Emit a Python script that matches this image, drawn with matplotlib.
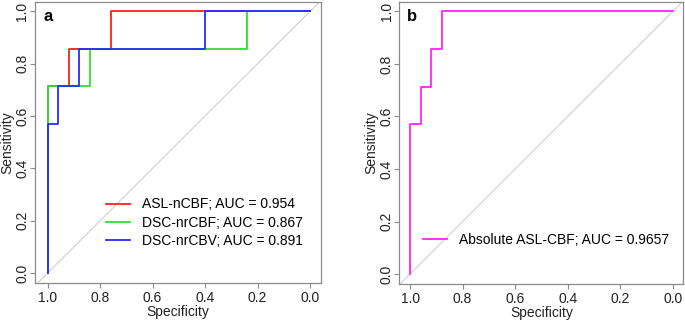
import matplotlib
matplotlib.use("Agg")
import matplotlib.pyplot as plt

plt.rcParams['font.family'] = ['Liberation Sans', 'DejaVu Sans']

# ROC curve step points (specificity, sensitivity)
asl_spec = [1.0, 1.0, 0.92, 0.92, 0.76, 0.76, 0.0]
asl_sens = [0.0, 0.714, 0.714, 0.857, 0.857, 1.0, 1.0]
dsc_cbf_spec = [1.0, 1.0, 0.84, 0.84, 0.24, 0.24, 0.0]
dsc_cbf_sens = [0.0, 0.714, 0.714, 0.857, 0.857, 1.0, 1.0]
dsc_cbv_spec = [1.0, 1.0, 0.96, 0.96, 0.88, 0.88, 0.40, 0.40, 0.0]
dsc_cbv_sens = [0.0, 0.571, 0.571, 0.714, 0.714, 0.857, 0.857, 1.0, 1.0]
abs_spec = [1.0, 1.0, 0.96, 0.96, 0.92, 0.92, 0.88, 0.88, 0.0]
abs_sens = [0.0, 0.571, 0.571, 0.714, 0.714, 0.857, 0.857, 1.0, 1.0]

labels_a = ["ASL-nCBF; AUC = 0.954", "DSC-nrCBF; AUC = 0.867", "DSC-nrCBV; AUC = 0.891"]
label_b = "Absolute ASL-CBF; AUC = 0.9657"
ticks = [1.0, 0.8, 0.6, 0.4, 0.2, 0.0]
tick_labels = ["1.0", "0.8", "0.6", "0.4", "0.2", "0.0"]

fig = plt.figure(figsize=(6.85, 3.2), dpi=100)
ax_a = fig.add_axes([35/685, 37/320, 286/685, 281/320])
ax_b = fig.add_axes([399.3/685, 36/320, 284/685, 282/320])

FS = 10
box_col = '#8a8a8a'

def style(ax, xl, yl):
    ax.set_xlim(*xl)
    ax.set_ylim(*yl)
    ax.set_xticks(ticks)
    ax.set_xticklabels(tick_labels, fontsize=FS, color='#222222')
    ax.set_yticks(ticks)
    ax.set_yticklabels(tick_labels, fontsize=FS, color='#222222', rotation=90, va='center')
    ax.tick_params(direction='out', length=3.5, width=0.8, color=box_col, pad=2)
    ax.tick_params(axis='y', pad=0.5)
    for s in ax.spines.values():
        s.set_color(box_col)
        s.set_linewidth(0.9)
    ax.set_xlabel("Specificity", fontsize=FS, color='#222222', labelpad=0)
    ax.set_ylabel("Sensitivity", fontsize=FS, color='#222222', labelpad=1)
    ax.axline((1, 0), (0, 1), color='#d0d0d0', lw=0.8, zorder=1)

style(ax_a, (1.048, -0.042), (-0.038, 1.036))
style(ax_b, (1.041, -0.040), (-0.038, 1.036))

lw = 1.3
ax_a.plot(asl_spec, asl_sens, color='#ff2020', lw=lw, label=labels_a[0], zorder=3)
ax_a.plot(dsc_cbf_spec, dsc_cbf_sens, color='#33dd33', lw=lw, label=labels_a[1], zorder=3)
ax_a.plot(dsc_cbv_spec, dsc_cbv_sens, color='#2a2aff', lw=lw, label=labels_a[2], zorder=3)
ax_a.legend(loc='center left', bbox_to_anchor=(0.248, 0.215), frameon=False, fontsize=FS,
            handlelength=1.75, handletextpad=0.85, labelspacing=0.3,
            borderpad=0, borderaxespad=0)
ax_a.text(0.028, 0.975, "a", transform=ax_a.transAxes, fontsize=12, fontweight='bold', va='top')

ax_b.plot(abs_spec, abs_sens, color='#ff22ff', lw=lw, label=label_b, zorder=3)
ax_b.legend(loc='center left', bbox_to_anchor=(0.0835, 0.156), frameon=False, fontsize=FS,
            handlelength=1.75, handletextpad=0.85, borderpad=0, borderaxespad=0)
ax_b.text(0.028, 0.975, "b", transform=ax_b.transAxes, fontsize=12, fontweight='bold', va='top')

fig.savefig("out.png", dpi=100)
